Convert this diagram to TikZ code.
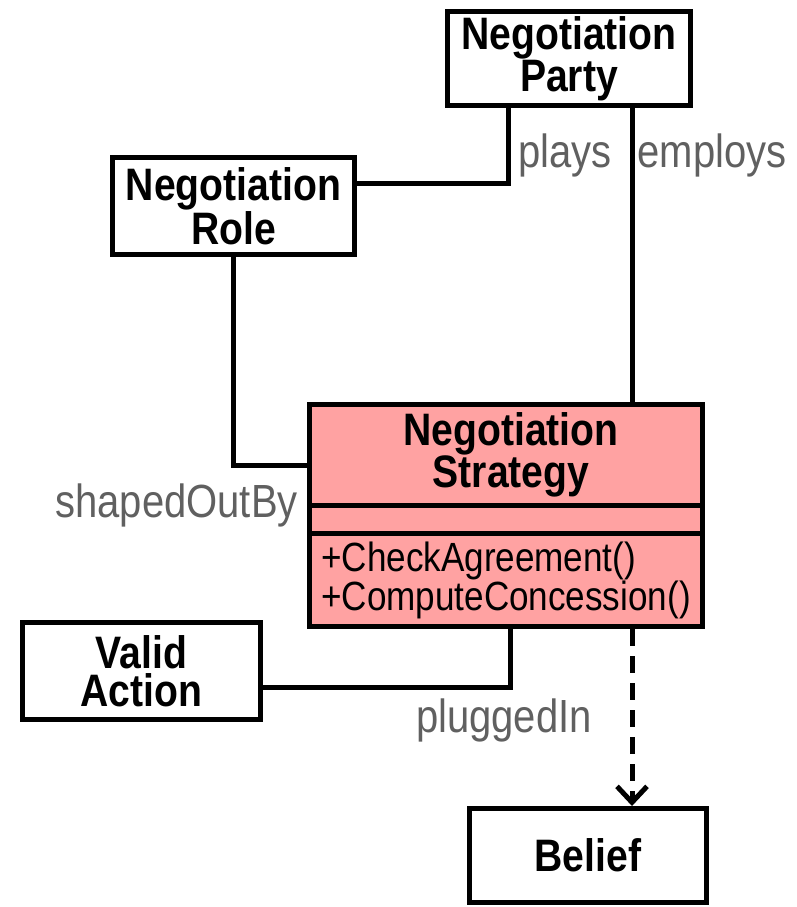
\documentclass[tikz,border=0pt]{standalone}
\usepackage{fontspec}
\setmainfont{Liberation Sans}[FakeStretch=0.86]
\usepackage{tikz}
\usetikzlibrary{arrows.meta}

\definecolor{stratpink}{RGB}{255,162,162}
\definecolor{rolegray}{RGB}{96,96,96}

\tikzset{
    classbox/.style={draw=black, line width=5pt, fill=white, align=center, inner sep=0pt,
        font=\bfseries\fontsize{45.5}{38}\selectfont},
    link/.style={draw=black, line width=5pt},
    rolename/.style={text=rolegray, inner sep=0pt, font=\fontsize{46.5}{40}\selectfont},
}

\begin{document}
\begin{tikzpicture}[x=1pt, y=-1pt]
    \useasboundingbox (0,0) rectangle (797,907);

    % classes, placed at their centres
    \node[classbox, minimum width=243pt, minimum height=94pt] (party) at (569,58.5) {Negotiation\\Party};
    \node[classbox, minimum width=242pt, minimum height=97pt] (role) at (233.5,206) {Negotiation\\Role};
    \node[classbox, minimum width=238pt, minimum height=97pt] (action) at (141.5,671) {Valid\\Action};
    \node[classbox, minimum width=237pt, minimum height=94pt] (belief) at (588,855.5) {Belief};

    % the strategy class with its compartments
    \node[classbox, fill=stratpink, minimum width=393pt, minimum height=222pt] (strategy) at (506,515.5) {};
    \coordinate (div1) at (0,505);
    \coordinate (div2) at (0,533);
    \draw[line width=5pt] (strategy.west |- div1) -- (strategy.east |- div1);
    \draw[line width=5pt] (strategy.west |- div2) -- (strategy.east |- div2);
    \node[inner sep=0pt, align=center, font=\bfseries\fontsize{45.5}{38}\selectfont] (stratname) at (511,455) {Negotiation\\Strategy};
    \node[inner sep=0pt, align=left, anchor=west, font=\fontsize{40.8}{37}\selectfont] (stratops) at (321,580)
        {+CheckAgreement()\\+ComputeConcession()};

    % associations
    \begin{scope}[every path/.style={link}]
    \draw ([xshift=-61pt]party.south) |- ([yshift=23pt]role.east);
    \draw ([xshift=63pt]party.south) -- ([xshift=63pt]party.south |- strategy.north);
    \draw (role.south) |- ([yshift=50pt]strategy.west);
    \draw ([yshift=-16pt]action.east) -| ([xshift=4pt]strategy.south);
    \end{scope}

    % dependency
    \draw[link, dash pattern=on 17pt off 10pt, -{Straight Barb[length=16pt,width=30pt,line width=5pt]}]
        ([xshift=126pt]strategy.south) -- ([xshift=126pt]strategy.south |- belief.north);

    % role names
    \node[rolename] (playslbl) at (565,155) {plays};
    \node[rolename] (employslbl) at (712,155) {employs};
    \node[rolename, anchor=east] (shapedlbl) at (298,505) {shapedOutBy};
    \node[rolename] (pluggedlbl) at (504,720) {pluggedIn};

\end{tikzpicture}
\end{document}
